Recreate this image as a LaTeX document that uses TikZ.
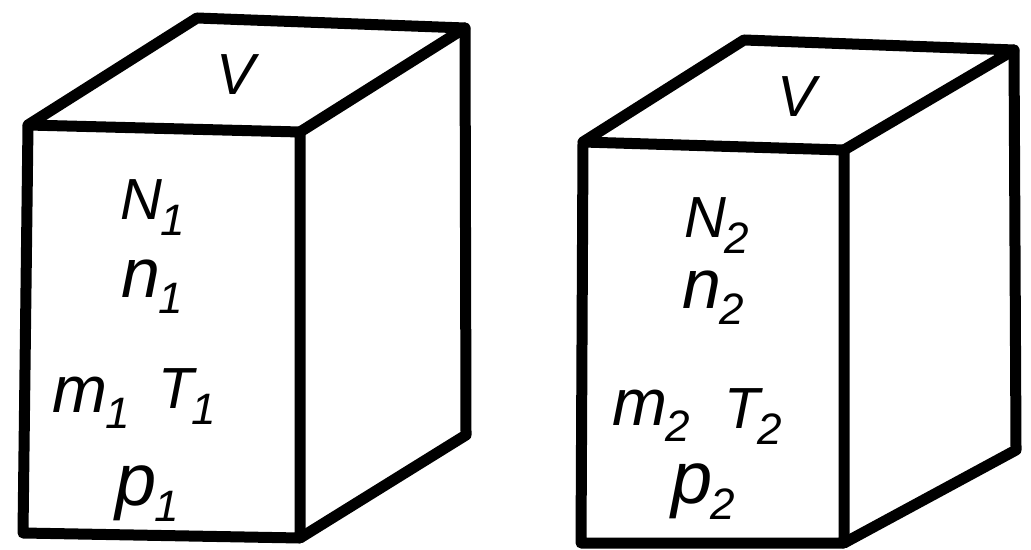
\documentclass[tikz,border=0pt]{standalone}
\usepackage{fontspec}
\setmainfont{Liberation Sans}
\usepackage{tikz}
\usetikzlibrary{calc}

% lowered index after a symbol
\newcommand{\lowidx}[1]{\kern-1pt\raisebox{-8pt}{\fontsize{22}{24}\selectfont #1}}

\begin{document}
\begin{tikzpicture}[
        x=0.5pt, y=-0.5pt,
        edge/.style={line width=5.5pt, line join=round, line cap=round},
        lbl/.style ={font=\fontsize{29}{32}\selectfont\itshape, inner sep=0pt}
    ]
        \useasboundingbox (0,0) rectangle (1031,550);
        % left vessel: front face a-b-c-d, top back e-f, right back g
        \coordinate (a1) at (28,125);
        \coordinate (b1) at (300,132);
        \coordinate (c1) at (300,538);
        \coordinate (d1) at (23,533);
        \coordinate (e1) at (197,18);
        \coordinate (f1) at (465,28);
        \coordinate (g1) at (466,435);
        % right vessel
        \coordinate (a2) at (583,142);
        \coordinate (b2) at (844,150);
        \coordinate (c2) at (844,543);
        \coordinate (d2) at (581,543);
        \coordinate (e2) at (744,40);
        \coordinate (f2) at (1014,50);
        \coordinate (g2) at (1016,450);
        \foreach \k in {1,2}{
            \draw[edge] (a\k) -- (b\k) -- (c\k) -- (d\k) -- cycle;
            \draw[edge] (a\k) -- (e\k) -- (f\k) -- (b\k);
            \draw[edge] (f\k) -- (g\k) -- (c\k);
        }
        % volume on the lids
        \node[lbl, anchor=base] (V1) at (236,95)  {V};
        \node[lbl, anchor=base] (V2) at (797,117) {V};
        % gas quantities on the front faces (symbol size varies)
        \foreach \nm/\x/\y/\sym/\ix/\fs in {%
            N1/120/220/N/1/29, n1/121/298/n/1/35, m1/52/412/m/1/33, T1/158/408/T/1/29, p1/115/505/p/1/37,%
            N2/684/238/N/2/29, n2/682/308/n/2/35, m2/612/425/m/2/33, T2/724/428/T/2/29, p2/671/503/p/2/37%
        }{
            \node[lbl, anchor=base west] (\nm) at (\x,\y)
                {\fontsize{\fs}{32}\selectfont\sym\lowidx{\ix}};
        }
    \end{tikzpicture}
\end{document}
